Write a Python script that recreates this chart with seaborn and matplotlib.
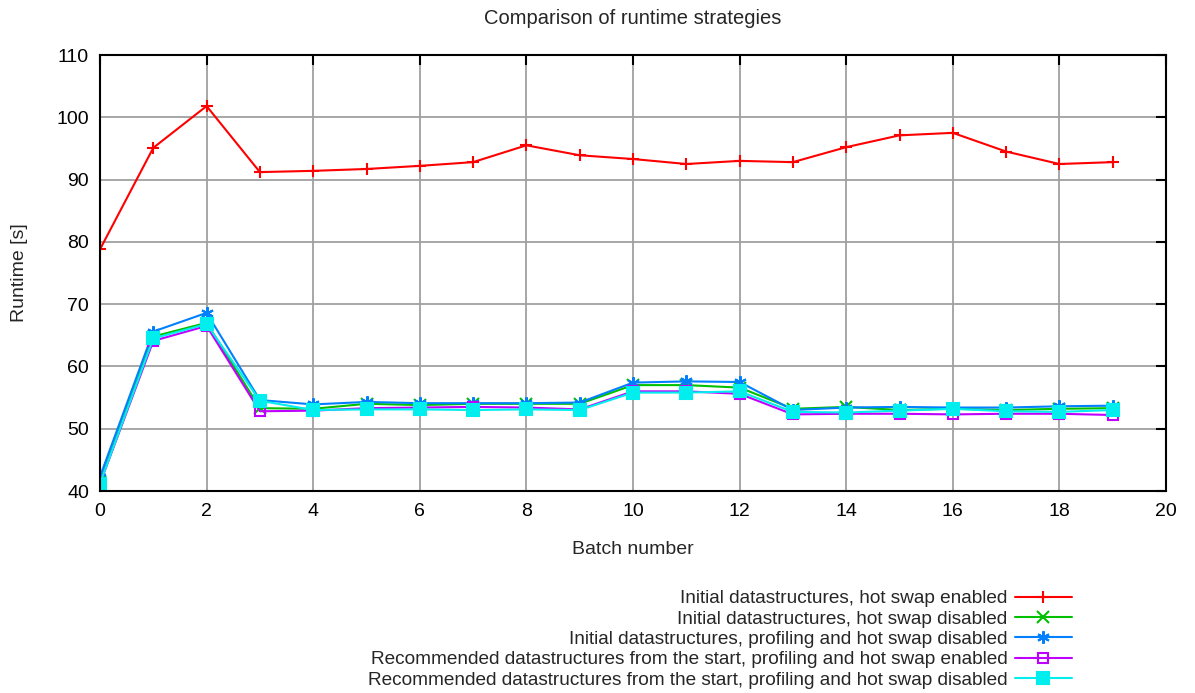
import numpy as np
import pandas as pd
import matplotlib
matplotlib.use("Agg")
import matplotlib.pyplot as plt
import seaborn as sns

batches = list(range(20))
labels = [
    "Initial datastructures, hot swap enabled",
    "Initial datastructures, hot swap disabled",
    "Initial datastructures, profiling and hot swap disabled",
    "Recommended datastructures from the start, profiling and hot swap enabled",
    "Recommended datastructures from the start, profiling and hot swap disabled",
]
init_hs_enabled = [78.8, 95.1, 101.8, 91.2, 91.4, 91.7, 92.2, 92.8, 95.5, 93.9,
                   93.3, 92.5, 93.0, 92.8, 95.2, 97.1, 97.5, 94.5, 92.5, 92.8]
init_hs_disabled = [41.5, 64.8, 67.0, 53.3, 53.2, 54.0, 53.8, 54.0, 54.0, 54.0,
                    57.0, 57.0, 56.6, 53.2, 53.5, 53.0, 53.2, 53.0, 53.2, 53.3]
init_prof_hs_disabled = [42.3, 65.6, 68.6, 54.6, 53.9, 54.3, 54.1, 54.1, 54.1, 54.2,
                         57.4, 57.6, 57.5, 53.0, 53.4, 53.5, 53.4, 53.4, 53.6, 53.7]
rec_prof_hs_enabled = [41.2, 64.1, 66.5, 52.8, 52.9, 53.3, 53.4, 53.5, 53.4, 53.1,
                       56.0, 56.0, 55.6, 52.3, 52.4, 52.4, 52.3, 52.4, 52.4, 52.2]
rec_prof_hs_disabled = [41.2, 64.5, 66.8, 54.5, 53.0, 53.1, 53.1, 53.0, 53.1, 53.0,
                        55.8, 55.8, 56.0, 52.7, 52.6, 52.9, 53.2, 52.8, 52.7, 53.0]
series = [init_hs_enabled, init_hs_disabled, init_prof_hs_disabled,
          rec_prof_hs_enabled, rec_prof_hs_disabled]

colors = ["#ff0000", "#00c000", "#0080ff", "#c000ff", "#00eeee"]
markers = ["+", "x", (6, 2, 0), "s", "s"]
mfc = ["#ff0000", "#00c000", "#0080ff", "none", "#00eeee"]
msizes = [9, 8, 9, 7, 8]

FS = 14
LFS = 13.7

sns.set_theme(style="white")
plt.rcParams["font.family"] = ["Liberation Sans", "DejaVu Sans"]
plt.rcParams["font.size"] = FS

fig = plt.figure(figsize=(11.95, 6.93), dpi=100)
ax = fig.add_axes([100 / 1195, 1 - 491 / 693, (1166 - 100) / 1195, (491 - 55) / 693])

for lab, vals, c, m, fc, ms in zip(labels, series, colors, markers, mfc, msizes):
    df = pd.DataFrame({"batch": batches, "runtime": vals})
    sns.lineplot(data=df, x="batch", y="runtime", ax=ax, color=c, marker=m,
                 markersize=ms, markerfacecolor=fc, markeredgecolor=c,
                 markeredgewidth=1.5, linewidth=1.5, label=lab)

ax.set_xlim(0, 20)
ax.set_ylim(40, 110)
ax.set_xticks(range(0, 21, 2))
ax.set_yticks(range(40, 111, 10))
ax.grid(True, color="#a0a0a0", linewidth=1.3)
ax.set_axisbelow(True)
for s in ax.spines.values():
    s.set_color("black")
    s.set_linewidth(1.5)
ax.tick_params(axis="both", direction="in", length=7, width=1.5, colors="black",
               labelsize=FS, top=True, right=True)
ax.tick_params(axis="x", pad=9)
ax.tick_params(axis="y", pad=8)
ax.set_xlabel("Batch number", fontsize=FS, labelpad=15)
ax.set_ylabel("Runtime [s]", fontsize=FS, labelpad=20)
fig.text(633 / 1195, 1 - 18 / 693, "Comparison of runtime strategies", ha="center",
         va="center", fontsize=14.5)

leg = ax.legend(loc="upper right", bbox_to_anchor=(1072 / 1195, 1 - 590 / 693),
                bbox_transform=fig.transFigure, frameon=False, markerfirst=False,
                handlelength=3.0, handletextpad=0.4, labelspacing=0.16,
                borderpad=0, borderaxespad=0, fontsize=LFS)

fig.savefig("out.png", dpi=100)
